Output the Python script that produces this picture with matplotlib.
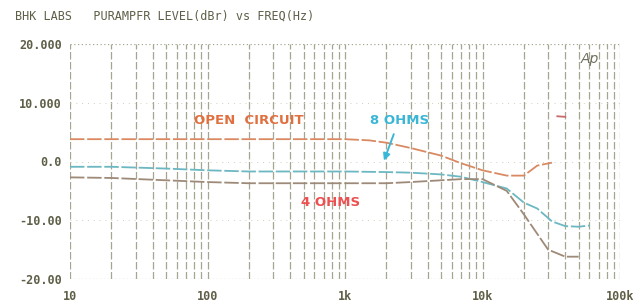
import numpy as np
import matplotlib
matplotlib.use("Agg")
import matplotlib.pyplot as plt
from matplotlib.ticker import FixedLocator, NullFormatter

# ---- data ----
freq_hz = [10, 20, 50, 100, 200, 500, 1000, 1500, 2000, 3000, 5000, 7000,
           10000, 15000, 20000, 25000, 32000]
open_circuit_db = [3.8, 3.8, 3.8, 3.8, 3.8, 3.8, 3.8, 3.6, 3.2, 2.3, 1.0, -0.3,
                   -1.5, -2.4, -2.4, -0.7, -0.2]
oc_peak_freq = [35000, 40000]
oc_peak_db = [7.7, 7.6]

freq8_hz = [10, 20, 50, 100, 200, 500, 1000, 2000, 3000, 5000, 7000, 10000,
            15000, 20000, 25000, 32000, 40000, 50000, 60000]
ohms8_db = [-0.9, -0.9, -1.2, -1.5, -1.7, -1.7, -1.7, -1.8, -1.9, -2.2, -2.6,
            -3.5, -4.6, -7.0, -8.0, -10.2, -11.0, -11.1, -10.9]

freq4_hz = [10, 20, 50, 100, 200, 500, 1000, 2000, 3000, 5000, 7000, 10000,
            15000, 20000, 30000, 40000, 50000]
ohms4_db = [-2.7, -2.8, -3.2, -3.5, -3.7, -3.7, -3.7, -3.7, -3.5, -3.2, -3.0,
            -3.0, -5.0, -9.0, -15.0, -16.2, -16.2]

x_ticks = [10, 100, 1000, 10000, 100000]
x_labels = ["10", "100", "1k", "10k", "100k"]
y_ticks = [20, 10, 0, -10, -20]
y_labels = ["20.000", "10.000", "0.0", "-10.00", "-20.00"]

title = "BHK LABS   PURAMPFR LEVEL(dBr) vs FREQ(Hz)"

# ---- figure ----
fig = plt.figure(figsize=(6.44, 3.08), dpi=100)
ax = fig.add_axes([70/644, 1-279/308, 550/644, 235/308])
ax.set_xscale("log")
ax.set_xlim(10, 100000)
ax.set_ylim(-20, 20)

grid_col = "#a6a690"
text_col = "#5f5f48"

# vertical grid at every 1..9 multiple
minors = [m * 10**e for e in range(1, 5) for m in range(1, 10)] + [100000]
for f in minors:
    ax.axvline(f, color=grid_col, lw=0.9, ls=(0, (6, 2)), zorder=1)
for y in [20, -20]:
    ax.axhline(y, color=grid_col, lw=0.9, ls=(0, (1, 2)), zorder=1)
for y in [10, 0, -10]:
    ax.axhline(y, color="#d0d0c0", lw=0.7, ls=(0, (1, 5)), zorder=1)

for s in ax.spines.values():
    s.set_visible(False)

ax.plot(freq_hz, open_circuit_db, color="#d98a62", lw=1.3, ls=(0, (8, 1.5)), zorder=3)
ax.plot(oc_peak_freq, oc_peak_db, color="#c96a6a", lw=1.3, zorder=3)
ax.plot(freq8_hz, ohms8_db, color="#6cb8c2", lw=1.3, ls=(0, (8, 1.5)), zorder=3)
ax.plot(freq4_hz, ohms4_db, color="#9e8a78", lw=1.3, ls=(0, (8, 1.5)), zorder=3)

ax.xaxis.set_major_locator(FixedLocator(x_ticks))
ax.xaxis.set_minor_formatter(NullFormatter())
ax.set_xticks(x_ticks)
ax.set_xticklabels(x_labels)
ax.set_yticks(y_ticks)
ax.set_yticklabels(y_labels)
ax.tick_params(axis="both", which="both", length=0, colors=text_col,
               labelsize=8.5)
ax.tick_params(axis="x", pad=8)
ax.tick_params(axis="y", pad=6)
for lab in ax.get_xticklabels() + ax.get_yticklabels():
    lab.set_family("DejaVu Sans Mono")
    lab.set_fontweight("bold")

fig.text(15/644, 1-16/308, title, family="DejaVu Sans Mono", fontsize=8.5,
         color=text_col, va="center", ha="left")

ax.text(200, 7.0, "OPEN  CIRCUIT", color="#e07040", fontsize=9.5,
        fontweight="bold", ha="center", va="center")
ax.text(2500, 7.0, "8 OHMS", color="#3ab6d6", fontsize=9.5,
        fontweight="bold", ha="center", va="center")
ax.text(780, -7.0, "4 OHMS", color="#ec5050", fontsize=9.5,
        fontweight="bold", ha="center", va="center")
ax.annotate("", xy=(1890, -0.3), xytext=(2300, 5.1),
            arrowprops=dict(arrowstyle="-|>", color="#3ab6d6", lw=1.4,
                            mutation_scale=10))
ax.text(60000, 17.5, "Ap", color="#707060", fontsize=10, style="italic",
        ha="center", va="center")

fig.savefig("out.png", dpi=100, facecolor="white")
